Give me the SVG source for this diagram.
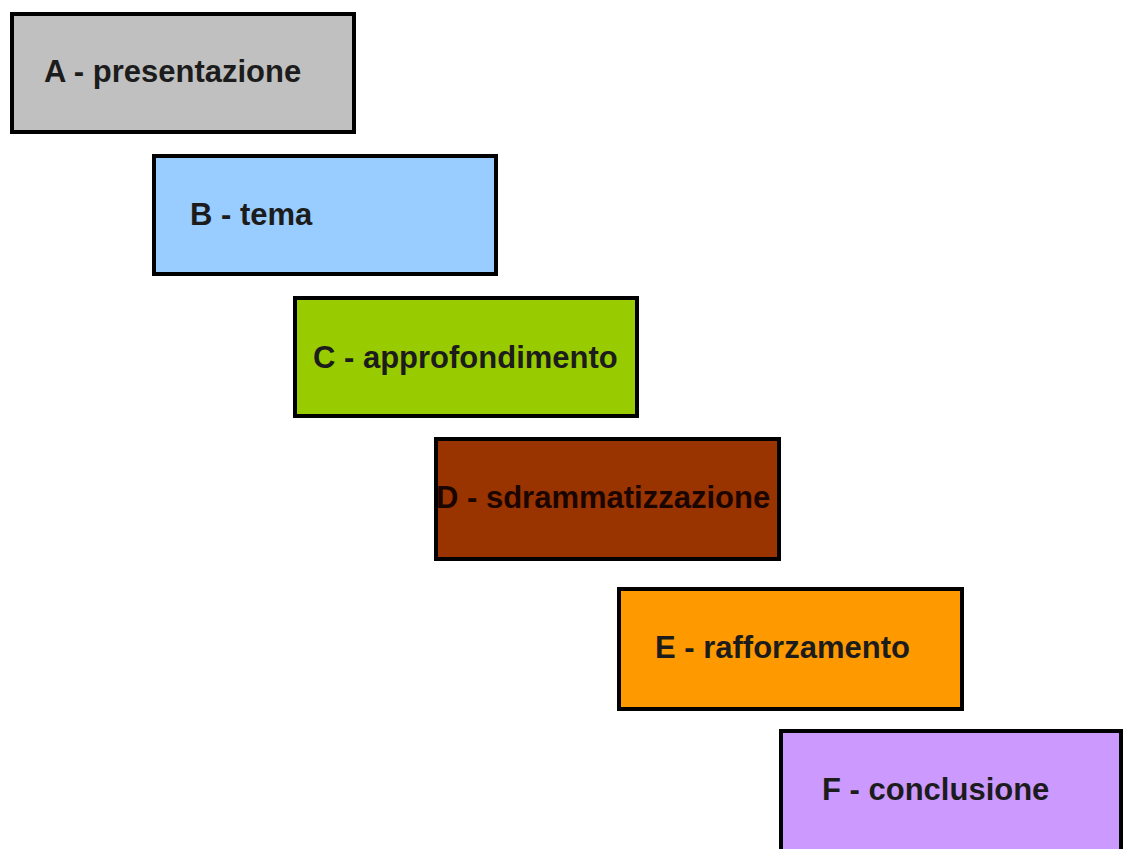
<svg xmlns="http://www.w3.org/2000/svg" width="1124" height="849" viewBox="0 0 1124 849">
  <style>
    .box { stroke: #000; stroke-width: 4; }
    .label { font-family: "Liberation Sans", Arial, sans-serif; font-weight: bold; font-size: 31px; fill: #1c1c1c; }
  </style>
  <rect width="1124" height="849" fill="#fff"/>
  <g id="step-a">
    <rect class="box" x="12" y="14" width="342" height="118" fill="#c0c0c0"/>
    <text class="label" x="44" y="82">A - presentazione</text>
  </g>
  <g id="step-b">
    <rect class="box" x="154" y="156" width="342" height="118" fill="#99ccff"/>
    <text class="label" x="190" y="225">B - tema</text>
  </g>
  <g id="step-c">
    <rect class="box" x="295" y="298" width="342" height="118" fill="#99cc00"/>
    <text class="label" x="313" y="368">C - approfondimento</text>
  </g>
  <g id="step-d">
    <rect class="box" x="436" y="439" width="343" height="120" fill="#993300"/>
    <text class="label" x="436" y="508" fill="#1a0500" style="fill:#1a0500">D - sdrammatizzazione</text>
  </g>
  <g id="step-e">
    <rect class="box" x="619" y="589" width="343" height="120" fill="#ff9900"/>
    <text class="label" x="655" y="658">E - rafforzamento</text>
  </g>
  <g id="step-f">
    <rect class="box" x="781" y="731" width="340" height="130" fill="#cc99ff"/>
    <text class="label" x="822" y="800">F - conclusione</text>
  </g>
  <g id="connectors"></g>
</svg>
